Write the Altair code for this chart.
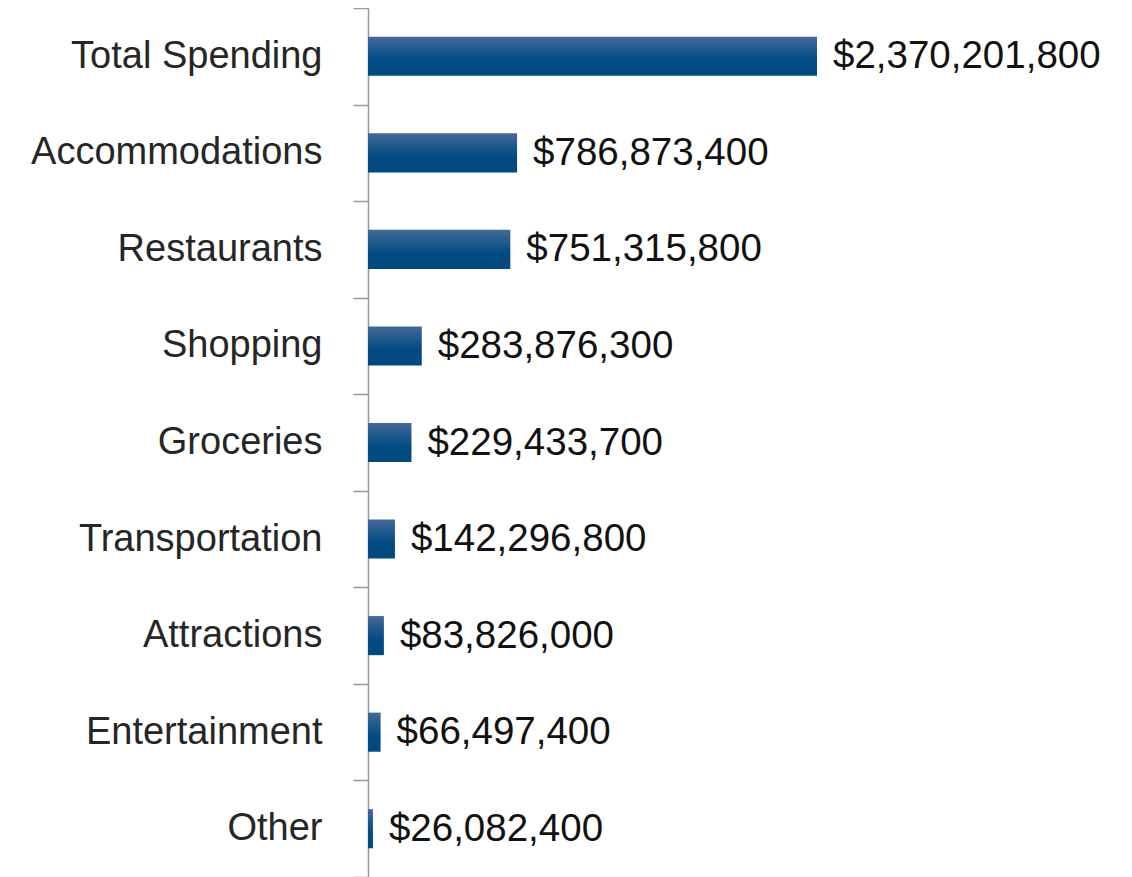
import altair as alt
import pandas as pd

categories = ["Total Spending", "Accommodations", "Restaurants", "Shopping", "Groceries",
              "Transportation", "Attractions", "Entertainment", "Other"]
values = [2370201800, 786873400, 751315800, 283876300, 229433700,
          142296800, 83826000, 66497400, 26082400]

df = pd.DataFrame({"category": categories, "value": values})
df["label"] = ["$" + f"{v:,}" for v in values]

FONT = "Liberation Sans Narrow, Arial Narrow, Liberation Sans, Arial, sans-serif"

W = 740
H = 869
xmax = max(values) * W / 449.0

y = alt.Y("category:N", sort=categories, title=None,
          scale=alt.Scale(paddingInner=0, paddingOuter=0),
          axis=alt.Axis(tickBand="extent", tickSize=15, tickColor="#999999",
                        domainColor="#999999", domainWidth=1.5, tickWidth=1.5,
                        labelPadding=31, labelFontSize=38,
                        labelExpr="datum.label == 'Accommodations' ? 'Accommodations\u00a0' : datum.label",
                        labelFont=FONT, labelColor="#262626", labelLimit=400))
x = alt.X("value:Q", title=None, scale=alt.Scale(domain=[0, xmax], nice=False),
          axis=None)

grad = alt.Gradient(gradient="linear", x1=0, y1=0, x2=0, y2=1,
                    stops=[alt.GradientStop(color="#44699A", offset=0),
                           alt.GradientStop(color="#004B82", offset=0.6),
                           alt.GradientStop(color="#004A80", offset=1)])

bars = alt.Chart(df).mark_bar(fill=grad, cornerRadius=0, height={"band": 0.405}).encode(x=x, y=y)
text = alt.Chart(df).mark_text(align="left", baseline="middle", dx=16, fontSize=38.5,
                               font=FONT, color="#111111").encode(
    x=x, y=y, text="label:N")

chart = (bars + text).properties(
    width=W, height=H,
    autosize=alt.AutoSizeParams(type="none"),
    padding={"left": 360, "top": 0, "right": 0, "bottom": 0},
).configure_view(stroke=None)

chart.save("out.html", embed_options={"renderer": "svg", "actions": False})
